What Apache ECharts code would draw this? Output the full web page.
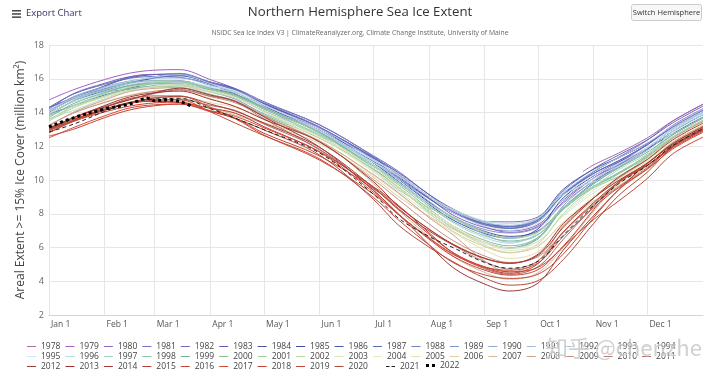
<!DOCTYPE html>
<html><head><meta charset="utf-8">
<script src="https://cdn.jsdelivr.net/npm/echarts@6/dist/echarts.min.js"></script>
<style>html,body{margin:0;padding:0;background:#fff}#c{width:720px;height:376px}</style>
</head><body><div id="c"></div>
<script>
// x positions (day of year, 0 = Jan 1)
const days = [0,14,31,45,59,73,90,104,120,151,181,195,212,226,243,257,273,287,304,318,334,348,365];
const days1978 = [298,304,318,334,348,365];
const days1987 = days.slice(0,21);
const days1988 = days.slice(1);
const days2022 = [0,14,31,45,55,59,66,73,79];
const monthLabels = ['Jan 1','Feb 1','Mar 1','Apr 1','May 1','Jun 1','Jul 1','Aug 1','Sep 1','Oct 1','Nov 1','Dec 1'];
const monthStarts = [0,31,59,90,120,151,181,212,243,273,304,334];
const yTicks = {min:2, max:18, interval:2};

const v1978 = [10.5,10.9,11.6,12.5,13.5,14.5];
const v1979 = [14.75,15.36,15.95,16.33,16.51,16.54,15.95,15.4,14.48,13.1,11.35,10.36,9.03,8.09,7.25,6.9,7.27,8.7,10.12,11.04,12.09,13.23,14.23];
const v1980 = [14.11,14.81,15.56,16.11,16.25,16.24,15.79,15.38,14.55,13.15,11.21,10.14,8.89,8.03,7.53,7.52,7.82,9.13,10.49,11.35,12.37,13.48,14.48];
const v1981 = [14.3,14.86,15.41,15.75,15.87,15.83,15.37,14.96,14.27,13.08,11.34,10.4,8.95,7.89,7.19,6.99,7.36,8.81,10.12,10.92,11.92,13.02,14.02];
const v1982 = [14.2,15.13,15.73,16.12,16.26,16.24,15.81,15.42,14.64,13.26,11.44,10.51,9.14,8.16,7.41,7.15,7.65,9.35,10.67,11.48,12.38,13.38,14.38];
const v1983 = [14.3,14.89,15.57,16.05,16.25,16.29,15.67,15.1,14.2,12.88,11.3,10.44,9.15,8.25,7.5,7.24,7.64,9.14,10.4,11.15,12.09,13.13,14.13];
const v1984 = [13.9,14.42,15.03,15.44,15.73,15.87,15.45,15.07,14.32,12.95,11.03,10.03,8.69,7.75,6.96,6.66,6.99,8.36,9.86,10.86,11.82,12.87,13.87];
const v1985 = [13.95,14.67,15.3,15.73,16.05,16.22,15.75,15.32,14.52,13.07,11.02,9.92,8.56,7.6,6.83,6.55,7.11,8.94,10.25,11.06,11.86,12.75,13.75];
const v1986 = [14.0,14.86,15.44,15.81,16.07,16.17,15.76,15.39,14.4,12.86,11.11,10.2,8.92,8.03,7.4,7.26,7.76,9.45,10.64,11.32,12.18,13.14,14.14];
const v1987 = [14.3,15.11,15.67,16.03,16.13,16.08,15.71,15.38,14.48,13.1,11.31,10.28,8.96,8.04,7.34,7.13,7.56,9.13,10.38,11.13,12.1];
const v1988 = [14.8,15.39,15.77,16.12,16.32,15.8,15.33,14.57,13.28,11.4,10.34,8.99,8.03,7.38,7.22,7.64,9.18,10.5,11.32,12.18,13.13,14.13];
const v1989 = [14.1,14.89,15.23,15.37,15.61,15.71,15.23,14.79,13.92,12.66,11.04,10.11,8.74,7.77,7.07,6.86,7.21,8.62,9.94,10.76,11.86,13.06,14.06];
const v1990 = [14.1,14.96,15.52,15.87,16.04,16.05,15.61,15.22,14.24,12.62,10.64,9.6,8.17,7.13,6.31,5.99,6.59,8.48,9.96,10.94,11.92,12.99,13.99];
const v1991 = [13.95,14.65,15.24,15.62,15.8,15.82,15.39,15.0,14.23,12.85,10.91,9.89,8.61,7.73,6.78,6.32,6.77,8.38,9.81,10.73,11.76,12.89,13.89];
const v1992 = [13.9,14.66,15.2,15.55,15.76,15.81,15.47,15.17,14.42,13.06,11.22,10.28,9.03,8.17,7.5,7.32,7.73,9.24,10.53,11.31,12.21,13.2,14.2];
const v1993 = [14.15,14.86,15.45,15.83,16.11,16.24,15.72,15.24,14.32,12.88,11.04,10.01,8.52,7.43,6.59,6.25,6.89,8.87,10.1,10.83,11.9,13.07,14.07];
const v1994 = [14.05,14.78,15.34,15.7,15.85,15.84,15.54,15.29,14.46,12.93,11.16,10.38,9.0,8.02,7.27,7.02,7.47,9.06,10.28,11.0,11.95,13.0,14.0];
const v1995 = [13.95,14.65,15.19,15.53,15.65,15.62,15.25,14.92,14.03,12.53,10.48,9.34,8.0,7.07,6.25,5.93,6.36,7.93,9.4,10.37,11.52,12.77,13.77];
const v1996 = [13.6,14.14,14.82,15.29,15.5,15.57,15.09,14.66,13.89,12.64,11.05,10.23,9.03,8.23,7.58,7.43,7.76,9.13,9.9,10.16,11.46,12.87,13.87];
const v1997 = [13.8,14.44,15.11,15.58,15.75,15.76,15.33,14.94,14.09,12.71,10.87,9.86,8.63,7.79,6.92,6.54,6.92,8.38,9.65,10.41,11.49,12.66,13.66];
const v1998 = [13.8,14.72,15.35,15.77,15.88,15.84,15.4,15.01,14.25,12.79,10.81,9.82,8.46,7.5,6.7,6.39,6.77,8.24,9.6,10.45,11.45,12.55,13.55];
const v1999 = [13.7,14.54,15.17,15.6,15.71,15.67,15.35,15.08,14.27,12.82,10.71,9.54,8.15,7.16,6.31,5.97,6.52,8.32,9.77,10.72,11.65,12.67,13.67];
const v2000 = [13.6,14.31,14.97,15.42,15.53,15.49,15.06,14.68,13.85,12.48,10.69,9.73,8.3,7.26,6.43,6.1,6.6,8.29,9.58,10.37,11.38,12.48,13.48];
const v2001 = [13.5,14.29,14.99,15.49,15.74,15.84,15.38,14.96,14.22,12.77,10.6,9.43,8.37,7.7,6.89,6.58,6.94,8.37,9.54,10.22,11.33,12.53,13.53];
const v2002 = [13.55,14.41,14.97,15.32,15.53,15.59,15.2,14.86,14.08,12.62,10.6,9.57,8.05,6.93,6.06,5.68,6.23,8.02,9.57,10.62,11.54,12.55,13.55];
const v2003 = [13.55,14.3,14.9,15.29,15.56,15.68,15.27,14.9,14.02,12.52,10.56,9.53,8.15,7.16,6.31,5.97,6.37,7.86,9.24,10.12,11.1,12.17,13.17];
const v2004 = [13.2,14.04,14.64,15.04,15.27,15.34,14.83,14.36,13.67,12.53,10.71,9.63,8.24,7.26,6.3,5.83,6.15,7.48,9.04,10.09,11.13,12.27,13.27];
const v2005 = [13.0,13.59,14.2,14.61,14.85,14.94,14.59,14.29,13.65,12.33,10.27,9.19,7.83,6.86,5.86,5.35,5.76,7.28,8.73,9.67,10.83,12.09,13.09];
const v2006 = [12.95,13.55,14.15,14.54,14.66,14.62,14.26,13.94,13.34,12.16,10.16,9.02,7.85,7.07,6.14,5.71,6.07,7.49,8.75,9.51,10.64,11.87,12.87];
const v2007 = [12.9,13.74,14.36,14.77,14.89,14.86,14.33,13.84,13.38,12.3,9.8,8.23,6.64,5.44,4.53,4.12,4.51,5.99,8.15,9.81,10.85,11.99,12.99];
const v2008 = [13.2,14.03,14.74,15.24,15.43,15.47,15.06,14.69,13.8,12.32,10.33,9.25,7.78,6.71,5.2,4.54,5.21,7.26,8.93,10.1,11.23,12.46,13.46];
const v2009 = [13.25,13.98,14.59,15.0,15.26,15.36,14.94,14.57,13.78,12.25,10.03,8.84,7.41,6.38,5.5,5.11,5.46,6.87,8.6,9.82,10.97,12.22,13.22];
const v2010 = [13.05,13.71,14.34,14.77,15.13,15.34,14.97,14.64,13.62,11.78,9.54,8.43,7.08,6.12,5.17,4.72,5.22,6.93,8.53,9.62,10.75,11.97,12.97];
const v2011 = [12.9,13.53,14.14,14.54,14.73,14.76,14.42,14.12,13.32,11.82,9.4,7.98,6.58,5.59,4.75,4.41,4.87,6.48,8.44,9.9,10.98,12.15,13.15];
const v2012 = [13.0,13.69,14.32,14.75,15.17,15.44,15.03,14.66,13.74,11.95,9.39,7.99,6.18,4.77,3.84,3.42,3.9,5.84,7.89,9.43,11.0,12.07,13.07];
const v2013 = [13.1,13.7,14.41,14.92,15.17,15.27,14.79,14.35,13.59,12.26,9.91,8.44,7.1,6.17,5.37,5.06,5.61,7.4,8.94,9.98,11.01,12.14,13.14];
const v2014 = [13.05,13.61,14.2,14.6,14.86,14.96,14.5,14.08,13.38,11.93,9.57,8.25,6.99,6.13,5.35,5.07,5.54,7.19,8.93,10.17,11.22,12.37,13.37];
const v2015 = [13.0,13.54,14.16,14.57,14.66,14.59,14.25,13.96,13.16,11.68,9.61,8.5,6.88,5.66,4.81,4.47,5.05,6.92,8.66,9.89,10.89,11.99,12.99];
const v2016 = [12.8,13.48,14.03,14.38,14.57,14.61,14.09,13.62,12.66,11.18,9.17,7.96,6.5,5.45,4.66,4.36,4.69,6.05,7.66,8.76,10.1,11.54,12.54];
const v2017 = [12.5,13.12,13.8,14.27,14.46,14.5,14.11,13.77,13.09,11.66,9.28,7.95,6.56,5.56,4.85,4.65,5.09,6.66,8.36,9.56,10.65,11.83,12.83];
const v2018 = [12.6,13.02,13.69,14.15,14.4,14.5,14.05,13.65,12.77,11.42,9.49,8.32,6.79,5.66,4.86,4.56,4.83,6.08,8.25,9.92,10.87,11.91,12.91];
const v2019 = [12.8,13.52,14.13,14.54,14.72,14.75,14.04,13.37,12.63,11.25,8.97,7.64,6.16,5.08,4.38,4.17,4.42,5.61,7.77,9.43,10.68,12.03,13.03];
const v2020 = [12.95,13.53,14.28,14.83,14.98,14.98,14.3,13.66,12.97,11.48,8.86,7.33,6.03,5.13,4.2,3.77,4.04,5.28,7.43,9.09,10.47,11.95,12.95];
const v2021 = [12.85,13.32,14.06,14.59,14.79,14.84,14.23,13.66,12.98,11.6,9.17,7.74,6.66,5.97,5.12,4.77,5.19,6.72,8.5,9.78,10.86,12.03,13.03];
const v2022 = [13.15,13.7,14.2,14.5,14.85,14.7,14.75,14.65,14.4];

const years = [];
for (let y = 1978; y <= 2022; y++) years.push(String(y));
const yearValues = {
  1978:v1978,1979:v1979,1980:v1980,1981:v1981,1982:v1982,1983:v1983,1984:v1984,1985:v1985,1986:v1986,
  1987:v1987,1988:v1988,1989:v1989,1990:v1990,1991:v1991,1992:v1992,1993:v1993,1994:v1994,1995:v1995,
  1996:v1996,1997:v1997,1998:v1998,1999:v1999,2000:v2000,2001:v2001,2002:v2002,2003:v2003,2004:v2004,
  2005:v2005,2006:v2006,2007:v2007,2008:v2008,2009:v2009,2010:v2010,2011:v2011,2012:v2012,2013:v2013,
  2014:v2014,2015:v2015,2016:v2016,2017:v2017,2018:v2018,2019:v2019,2020:v2020,2021:v2021,2022:v2022
};
const yearDays = {1978:days1978, 1987:days1987, 1988:days1988, 2022:days2022};
const yearColors = ['#a56ea8','#a25fc4','#9266c8','#8468c4','#7466c0','#6260b8','#4c52a8','#3f4ca4','#4a5cae',
  '#5a70b8','#6a82c2','#7d95cc','#90a8d4','#a2badc','#b0c8e2','#bed4e8','#c8dcec',
  '#cce8ea','#b4dfd8','#9dd2c4','#86c4ae','#72b696','#86c090','#a0cc98','#bcd8a4','#dce6b4','#ece8bc',
  '#eadcaa','#e2cca0','#d6b898','#cca48c','#c29080','#b87c74','#ae6866',
  '#9c3a36','#a3322c','#ac3a32','#b83e34','#c94434','#d44a36','#cc4232','#c44a36','#b24a3c','#000000','#000000'];

const cats = [];
for (let i = 0; i <= 365; i++) cats.push('d' + i);
const labelOf = {};
monthStarts.forEach((d, i) => labelOf[d] = monthLabels[i]);
const isMonthStart = (idx) => labelOf[idx] !== undefined;

const series = years.map((y, k) => {
  const vals = yearValues[y];
  const ds = yearDays[y] || days;
  const data = vals.map((v, i) => [ds[i], v]);
  let lineStyle = {width: 1, color: yearColors[k]};
  if (y === '2021') lineStyle = {width: 1, color: '#222', type: [4, 3]};
  if (y === '2022') lineStyle = {width: 3, color: '#000', type: [3, 3], cap: 'butt'};
  return {
    name: y, type: 'line', data: data, symbol: 'none', smooth: 0.35,
    color: lineStyle.color, lineStyle: lineStyle, emphasis: {disabled: true},
    z: 2 + k / 100
  };
});

const legendBase = {
  orient: 'horizontal', width: 710, itemWidth: 9, itemHeight: 1, itemGap: 5, padding: 0,
  selectedMode: false, icon: 'rect',
  textStyle: {fontSize: 8.5, color: '#444', fontFamily: 'Open Sans', width: 21}
};
const legends = [
  Object.assign({}, legendBase, {data: years.slice(0, 17), left: 27, top: 342}),
  Object.assign({}, legendBase, {data: years.slice(17, 34), left: 27, top: 352}),
  Object.assign({}, legendBase, {data: years.slice(34, 43), left: 27, top: 362}),
  Object.assign({}, legendBase, {data: ['2021'], left: 386, top: 362, icon: 'path://M0,0H3.5V1H0Z M5.5,0H9V1H5.5Z'}),
  Object.assign({}, legendBase, {data: ['2022'], left: 426, top: 361, itemHeight: 3, icon: 'path://M0,0H3V3H0Z M6,0H9V3H6Z'})
];

const chart = echarts.init(document.getElementById('c'), null, {renderer: 'canvas'});
chart.setOption({
  animation: false,
  backgroundColor: '#fff',
  grid: {left: 49, right: 17, top: 45, bottom: 61},
  legend: legends,
  xAxis: {
    type: 'category', data: cats, boundaryGap: false,
    axisLine: {show: true, lineStyle: {color: '#ccd6eb', width: 1}},
    axisTick: {show: false},
    axisLabel: {
      interval: (idx) => isMonthStart(idx),
      formatter: (val, idx) => labelOf[idx] || '',
      align: 'left', padding: [0, 0, 0, 2], color: '#555', fontSize: 8.5,
      fontFamily: 'Open Sans', margin: 5
    },
    splitLine: {show: true, interval: (idx) => isMonthStart(idx), lineStyle: {color: '#e6e6e6', width: 1}}
  },
  yAxis: {
    type: 'value', min: yTicks.min, max: yTicks.max, interval: yTicks.interval,
    axisLine: {show: false}, axisTick: {show: false},
    axisLabel: {color: '#666', fontSize: 9, fontFamily: 'Open Sans', margin: 5},
    splitLine: {lineStyle: {color: '#e6e6e6', width: 1}},
    name: 'Areal Extent >= 15% Ice Cover (million km²)', nameLocation: 'middle', nameRotate: 90, nameGap: 22,
    nameMoveOverlap: false,
    nameTextStyle: {fontSize: 12, color: '#444', fontFamily: 'Open Sans'}
  },
  graphic: [
    {type: 'text', left: 'center', top: 6, style: {text: 'Northern Hemisphere Sea Ice Extent', fontSize: 13.2, fill: '#333', fontFamily: 'Open Sans'}},
    {type: 'text', left: 'center', top: 30, style: {text: 'NSIDC Sea Ice Index V3 | ClimateReanalyzer.org, Climate Change Institute, University of Maine', fontSize: 6.8, fill: '#666', fontFamily: 'Open Sans'}},
    {type: 'rect', shape: {x: 12, y: 10, width: 9, height: 1.5}, style: {fill: '#444'}},
    {type: 'rect', shape: {x: 12, y: 13.2, width: 9, height: 1.5}, style: {fill: '#444'}},
    {type: 'rect', shape: {x: 12, y: 16.4, width: 9, height: 1.5}, style: {fill: '#444'}},
    {type: 'text', x: 26, y: 8, style: {text: 'Export Chart', fontSize: 9.5, fill: '#333366', fontFamily: 'Open Sans'}},
    {type: 'rect', shape: {x: 631.5, y: 4.5, width: 70, height: 16, r: 2}, style: {fill: '#f7f7f7', stroke: '#cccccc', lineWidth: 1}},
    {type: 'text', x: 666.5, y: 12.5, style: {text: 'Switch Hemisphere', fontSize: 7.5, fill: '#333', align: 'center', verticalAlign: 'middle', fontFamily: 'Open Sans'}},
    {type: 'text', x: 546, y: 337, z: 100, style: {text: '知乎 @chenzhe', fontSize: 22, fill: 'rgba(170,170,170,0.55)', stroke: 'rgba(255,255,255,0.7)', lineWidth: 1, fontFamily: 'Noto Sans CJK SC'}}
  ],
  series: series
});
</script></body></html>
